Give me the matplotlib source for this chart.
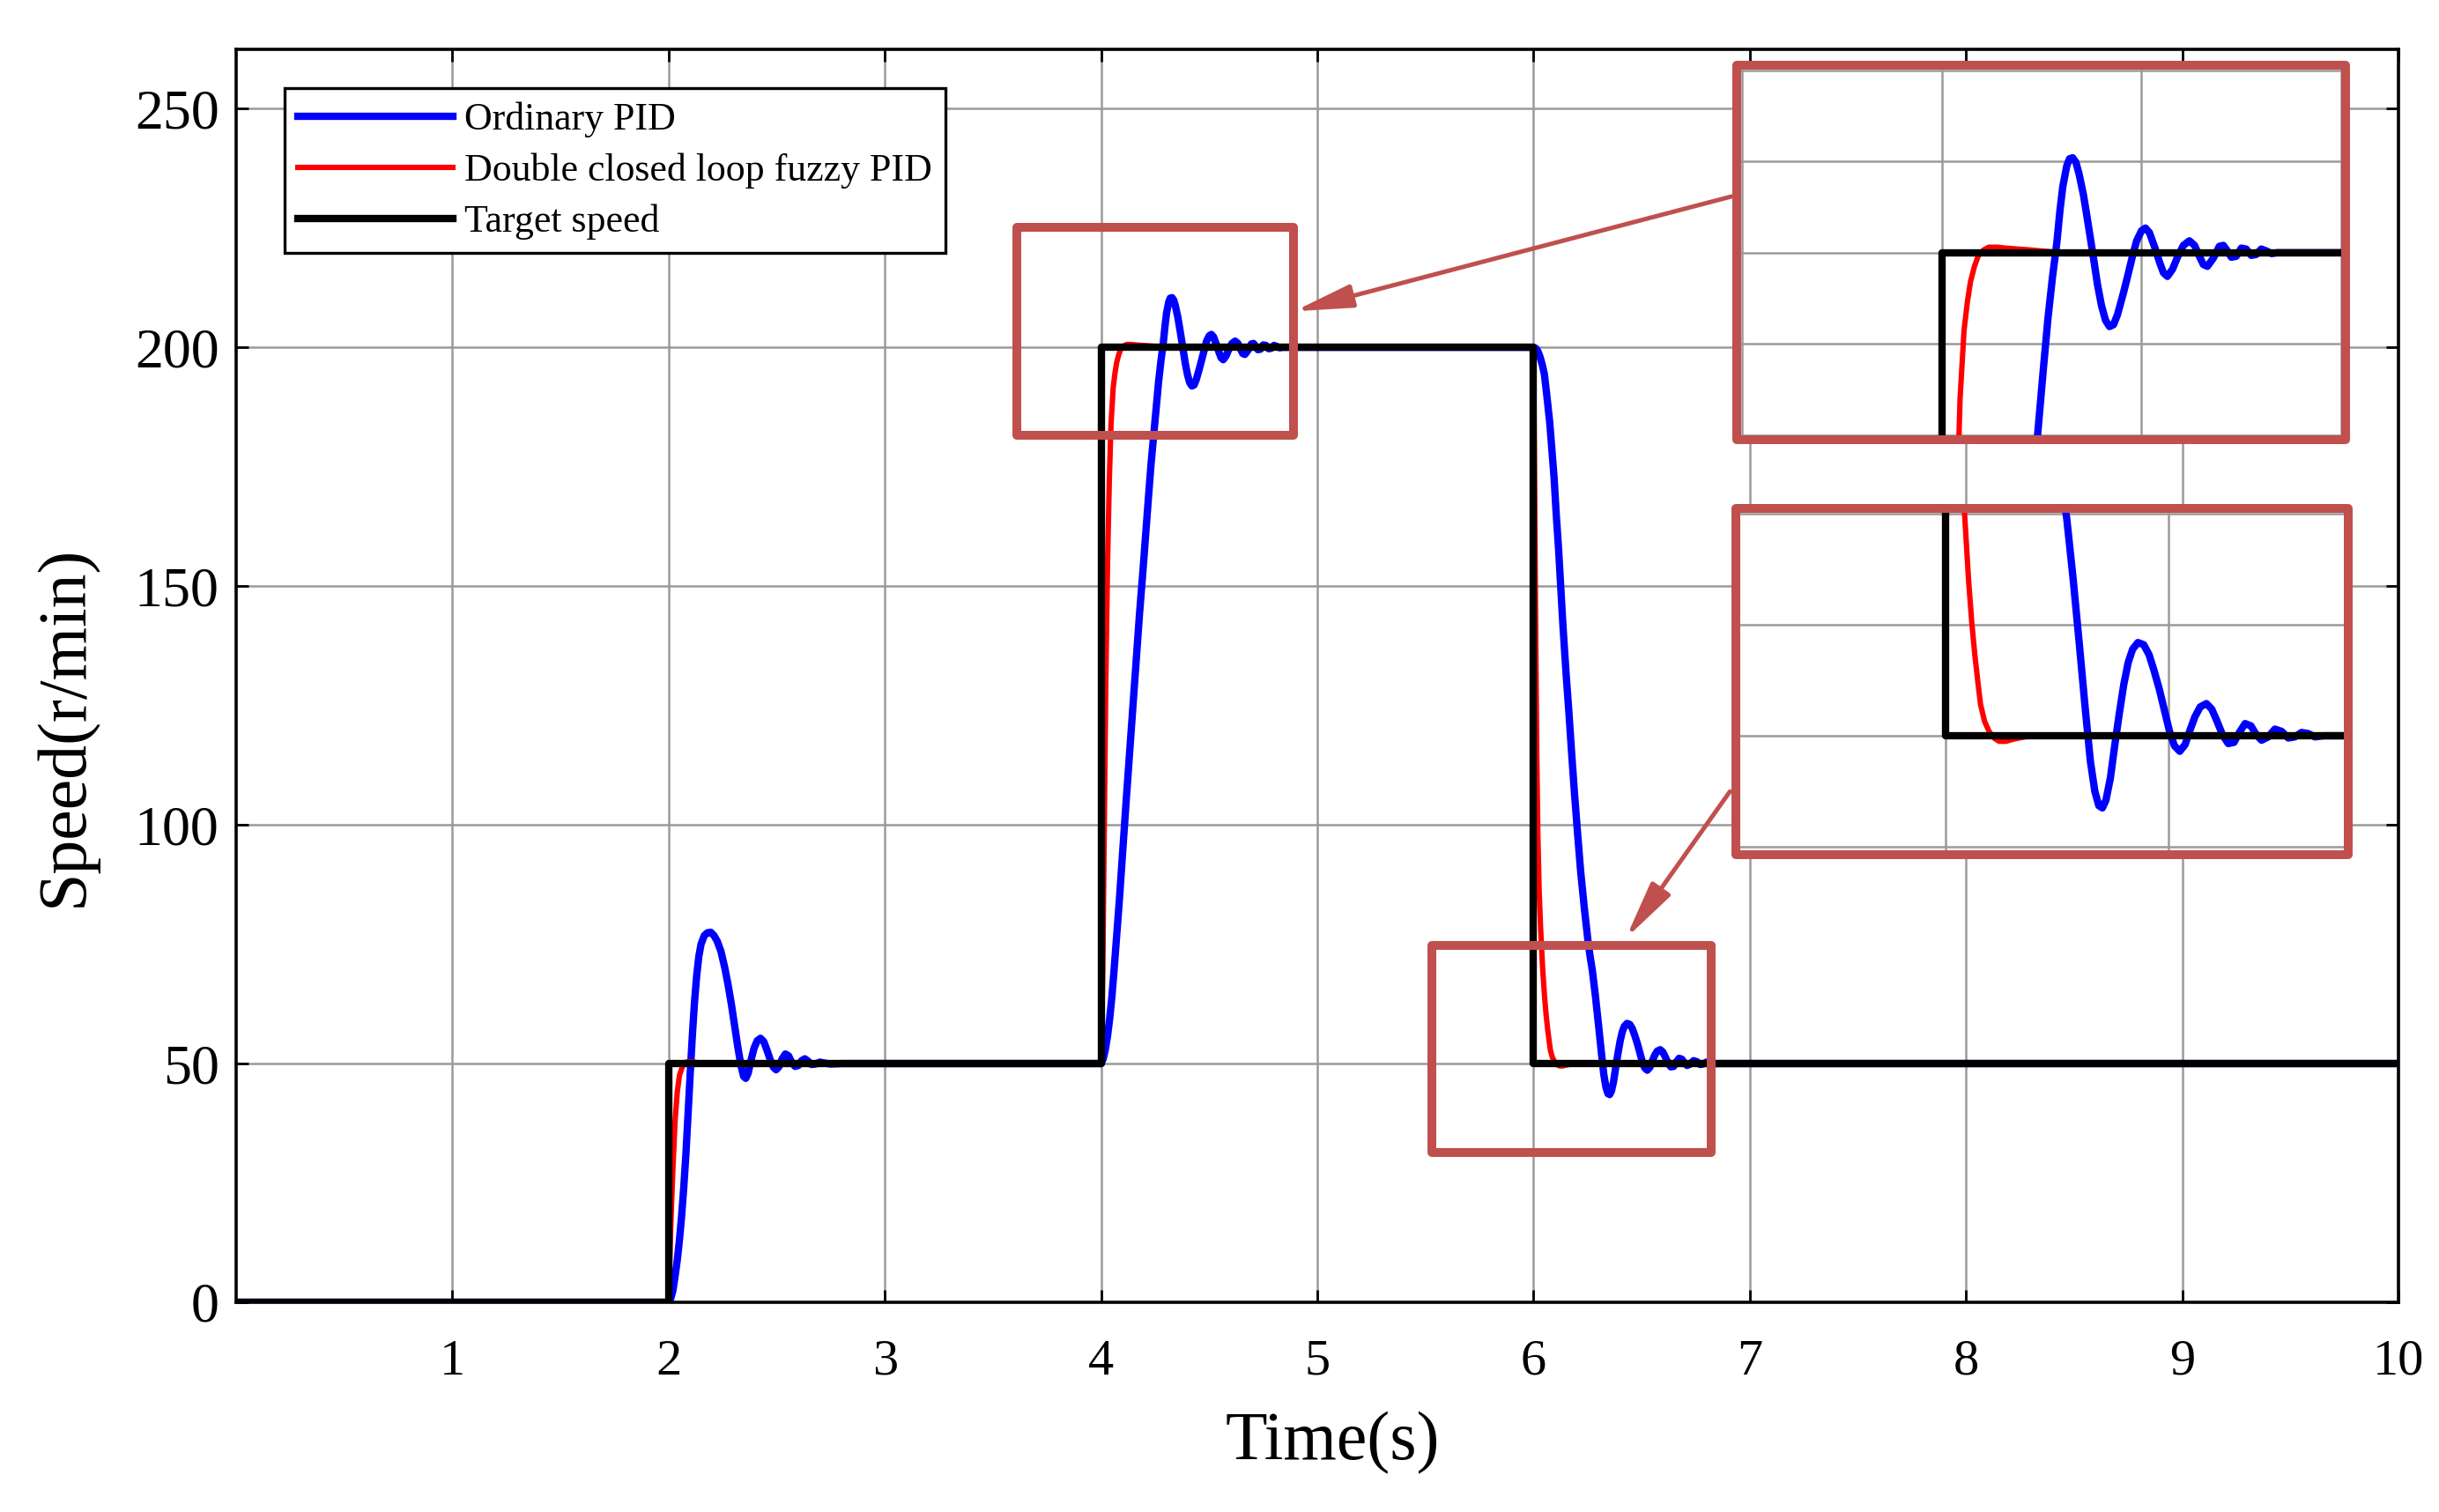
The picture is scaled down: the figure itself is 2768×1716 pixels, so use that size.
import numpy as np
import matplotlib.pyplot as plt
from matplotlib.patches import Rectangle, FancyArrowPatch

plt.rcParams['font.family'] = ['Liberation Serif', 'DejaVu Serif']

# target speed profile (r/min)
target_t = [0, 2, 2, 4, 4, 6, 6, 10]
target_v = [0, 0, 50, 50, 200, 200, 50, 50]

# ordinary PID response
pid_t = [0, 2.0, 2.01, 2.02, 2.03, 2.04, 2.05, 2.06, 2.07, 2.08, 2.09, 2.10, 2.11, 2.12,
         2.13, 2.14, 2.15, 2.165, 2.18, 2.195, 2.21, 2.225, 2.242, 2.26, 2.275, 2.29,
         2.305, 2.32, 2.335, 2.347, 2.357, 2.368, 2.38, 2.395, 2.41, 2.425, 2.44, 2.455,
         2.47, 2.485, 2.497, 2.51, 2.525, 2.54, 2.555, 2.57, 2.585, 2.6, 2.615, 2.63,
         2.645, 2.66, 2.68, 2.7, 2.72, 2.75, 2.8, 4.0,
         4.01, 4.02, 4.03, 4.04, 4.05, 4.06, 4.07, 4.085, 4.1, 4.116, 4.132, 4.148,
         4.163, 4.178, 4.194, 4.207, 4.219, 4.231, 4.243, 4.255, 4.266, 4.277, 4.288,
         4.296, 4.303, 4.313, 4.32, 4.328, 4.336, 4.344, 4.355, 4.365, 4.38, 4.39,
         4.40, 4.41, 4.42, 4.43, 4.44, 4.455, 4.467, 4.478, 4.488, 4.5, 4.51, 4.52,
         4.534, 4.545, 4.555, 4.565, 4.578, 4.59, 4.605, 4.62, 4.633, 4.645, 4.655,
         4.665, 4.68, 4.695, 4.705, 4.715, 4.725, 4.737, 4.75, 4.762, 4.775, 4.787,
         4.80, 4.812, 4.826, 4.84, 6.0,
         6.01, 6.02, 6.03, 6.04, 6.05, 6.06, 6.075, 6.085, 6.095, 6.105, 6.116, 6.126,
         6.136, 6.15, 6.163, 6.177, 6.19, 6.204, 6.218, 6.235, 6.252, 6.262, 6.272,
         6.286, 6.3, 6.314, 6.325, 6.335, 6.344, 6.352, 6.36, 6.37, 6.38, 6.39, 6.4,
         6.41, 6.42, 6.432, 6.445, 6.457, 6.468, 6.48, 6.492, 6.503, 6.514, 6.526,
         6.538, 6.549, 6.56, 6.572, 6.586, 6.598, 6.61, 6.622, 6.635, 6.648, 6.66,
         6.673, 6.686, 6.698, 6.71, 6.725, 6.74, 6.755, 6.77, 6.785, 6.8, 6.815, 6.83,
         6.85, 10.0]
pid_v = [0, 0, 0.8, 2.5, 5.5, 8.8, 13, 18, 24, 31, 39.5, 48, 56, 63,
         68.5, 72.5, 75, 76.8, 77.4, 77.5, 76.8, 75.6, 73.5, 70, 66.5, 62.5,
         58, 53.5, 49.5, 47.3, 46.9, 48, 50.5, 53.2, 54.8, 55.3, 54.6, 52.8,
         50.8, 49.2, 48.7, 49.3, 51, 52, 51.6, 50.2, 49.4, 49.6, 50.6, 51,
         50.5, 49.8, 49.9, 50.3, 50.1, 49.9, 50, 50,
         51, 53, 55.8, 59.5, 64, 69.5, 75.5, 84.5, 94.5, 105, 115.2, 125.2,
         134.8, 144.3, 153.4, 161.3, 168.5, 175.5, 181.5, 187.5, 192.8, 197.2, 201,
         204.6, 207.2, 209.5, 210.3, 210.4, 209.9, 208.6, 206.3, 203.6, 199.4, 196.5,
         194.2, 192.6, 191.9, 192.1, 193.2, 195.6, 197.7, 199.7, 201.3, 202.4, 202.7, 202.2,
         200.5, 199, 197.8, 197.4, 198.2, 199.5, 200.8, 201.3, 200.8, 199.6, 198.7,
         198.5, 199.4, 200.7, 200.8, 200.2, 199.5, 199.6, 200.5, 200.4, 199.7, 199.8,
         200.4, 200.2, 199.9, 200, 200,
         199.8, 199.2, 198, 196.4, 194.4, 190.5, 184.2, 178.5, 172.7, 165, 157.6, 149.5,
         141.7, 132, 123.9, 114.5, 106.2, 98, 90.2, 82.5, 75.6, 72.3, 69.5,
         64.2, 58.3, 52.2, 47.7, 45, 43.7, 43.5, 44.2, 46.2, 49.2, 52, 54.6,
         56.6, 57.8, 58.4, 58.2, 57.3, 55.9, 54.2, 52.2, 50.4, 49.1, 48.6,
         49.2, 50.5, 51.7, 52.6, 52.9, 52.4, 51.3, 50.1, 49.3, 49.4, 50.3,
         51.1, 50.9, 50.1, 49.6, 49.9, 50.6, 50.4, 49.8, 49.9, 50.3, 50.2, 49.9,
         50, 50]

# double closed loop fuzzy PID response
fuzzy_t = [0, 2.0, 2.005, 2.01, 2.02, 2.03, 2.04, 2.05, 2.065, 2.08, 2.1, 2.15, 2.2, 4.0,
           4.008, 4.015, 4.022, 4.03, 4.038, 4.046, 4.056, 4.064, 4.072, 4.082, 4.092,
           4.105, 4.118, 4.14, 4.16, 4.22, 4.3, 6.0,
           6.005, 6.01, 6.015, 6.02, 6.026, 6.033, 6.042, 6.051, 6.058, 6.065, 6.072,
           6.078, 6.087, 6.097, 6.108, 6.12, 6.135, 6.152, 6.19, 10.0]
fuzzy_v = [0, 0, 8, 16, 28, 38, 44, 47.5, 49.5, 50.3, 50.4, 50.1, 50, 50,
           70, 100, 130, 155, 172, 184, 191.5, 194.5, 196.8, 198.5, 199.7,
           200.3, 200.6, 200.6, 200.5, 200.3, 200, 200,
           170, 140, 115, 98, 86, 78, 70, 64, 60.3, 57.3, 54.8,
           52.8, 51.3, 50.4, 49.8, 49.5, 49.5, 49.7, 50, 50]

x_ticks = [1, 2, 3, 4, 5, 6, 7, 8, 9, 10]
y_ticks = [0, 50, 100, 150, 200, 250]

W, H = 2768, 1716
BOX = '#C0504D'
GRID = '#9a9a9a'


def fr(x0, y0, x1, y1):
    # pixel box (top-left origin) -> figure fraction rect
    return [x0 / W, 1 - y1 / H, (x1 - x0) / W, (y1 - y0) / H]


def draw_curves(a):
    a.plot(pid_t, pid_v, color='#0000ff', lw=3.0, solid_joinstyle='round',
           label='Ordinary PID')
    a.plot(fuzzy_t, fuzzy_v, color='#ff0000', lw=2.2, solid_joinstyle='round',
           label='Double closed loop fuzzy PID')
    a.plot(target_t, target_v, color='black', lw=3.0, label='Target speed')


fig = plt.figure(figsize=(W / 200, H / 200), dpi=200)
ax = fig.add_axes(fr(268, 56, 2722, 1478))
draw_curves(ax)
ax.set_xlim(0, 10)
ax.set_ylim(0, 262.4)
ax.set_xticks(x_ticks)
ax.set_yticks(y_ticks)
ax.grid(True, color=GRID, lw=0.9)
ax.set_axisbelow(True)
ax.tick_params(axis='both', direction='in', top=True, right=True, length=5, width=1)
ax.tick_params(axis='x', labelsize=21, pad=15)
ax.tick_params(axis='y', labelsize=23, pad=7)
for s in ax.spines.values():
    s.set_linewidth(1.3)

ax.set_xlabel('Time(s)', fontsize=28)
ax.set_ylabel('Speed(r/min)', fontsize=28)
ax.xaxis.label.set_va('center')
ax.yaxis.label.set_va('center')
ax.xaxis.set_label_coords(0.507, -0.1125)
ax.yaxis.set_label_coords(-0.079, 0.46)

leg = ax.legend(loc='upper left', bbox_to_anchor=(0.0224, 0.969), borderaxespad=0,
                fontsize=15.8, handlelength=4.0, handletextpad=0.3, labelspacing=0.4,
                borderpad=0.35, fancybox=False, framealpha=1, edgecolor='black')
leg.get_frame().set_linewidth(1.2)

# boxes marking the zoomed regions
ax.add_patch(Rectangle((3.61, 181.6), 1.28, 43.5, fill=False, ec=BOX, lw=3.6,
                       joinstyle='round', zorder=5))
ax.add_patch(Rectangle((5.53, 31.4), 1.29, 43.25, fill=False, ec=BOX, lw=3.6,
                       joinstyle='round', zorder=5))

# zoomed views
insets = [
    (fr(1971, 73.5, 2662, 499), (3.487, 5.011), (179.5, 220.6),
     np.arange(3.5, 5.01, 0.5), np.arange(180, 221, 10)),
    (fr(1970, 577, 2665, 970), (5.5275, 6.905), (39.29, 70.48),
     np.arange(6.0, 6.9, 0.5), np.arange(40, 71, 10)),
]
for rect, xl, yl, xt, yt in insets:
    ins = fig.add_axes(rect)
    draw_curves(ins)
    ins.set_xlim(*xl)
    ins.set_ylim(*yl)
    ins.set_xticks(xt)
    ins.set_yticks(yt)
    ins.grid(True, color=GRID, lw=0.9)
    ins.set_axisbelow(True)
    ins.tick_params(length=0, labelbottom=False, labelleft=False)
    for s in ins.spines.values():
        s.set_visible(False)
    ins.add_patch(Rectangle((0, 0), 1, 1, transform=ins.transAxes, fill=False, ec=BOX,
                            lw=3.6, joinstyle='round', clip_on=False, zorder=10))

# arrows from zoomed views to marked regions
arrows = [((1965, 223), (1468.6, 353.3)), ((1963.3, 898.3), (1845, 1065))]
for (xa, ya), (xb, yb) in arrows:
    fig.add_artist(FancyArrowPatch((xa / W, 1 - ya / H), (xb / W, 1 - yb / H),
                                   transform=fig.transFigure,
                                   arrowstyle='-|>,head_length=20,head_width=4',
                                   mutation_scale=1, lw=1.8, color=BOX,
                                   shrinkA=0, shrinkB=0))

fig.savefig('out.png', dpi=200)
